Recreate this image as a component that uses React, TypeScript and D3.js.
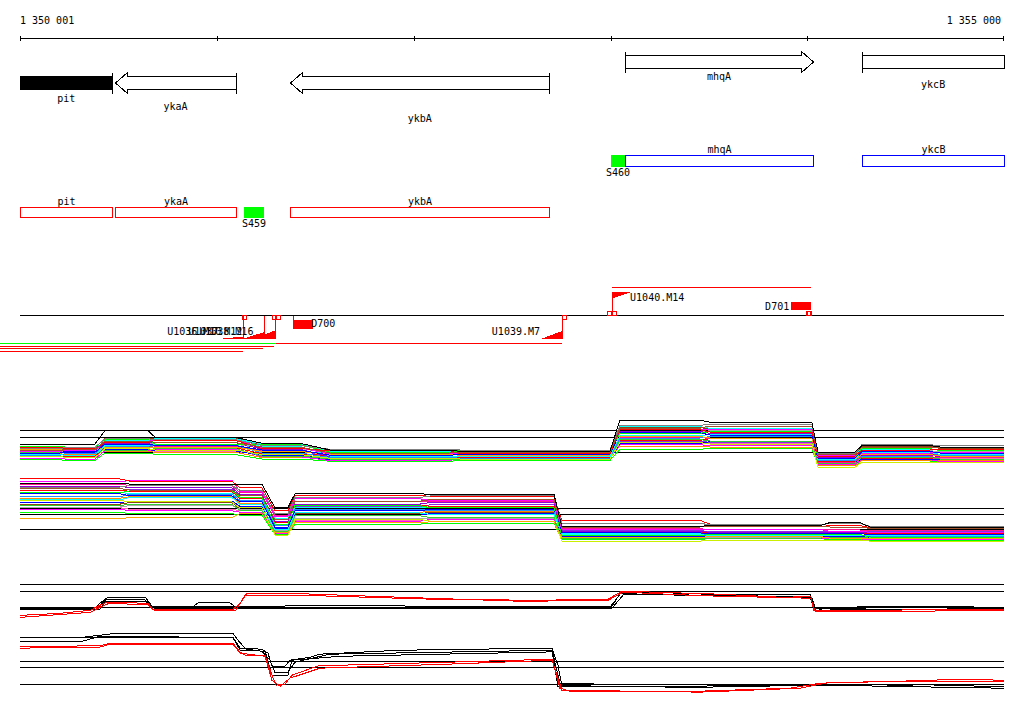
import React from 'react';
import * as d3 from 'd3';

// ---------------- data ----------------
const REGION_FIRST = 1350001;
const REGION_LAST = 1355000;
const REGION_LENGTH = REGION_LAST - REGION_FIRST; // offsets 0..4999
const RULER_TICK_OFFSETS = [0, 1000, 2000, 3000, 4000, 4999];

const GENE_NAMES = ['pit', 'ykaA', 'ykbA', 'mhqA', 'ykcB'];
const GENE_STARTS = [-600, 483, 1372, 3075, 4279];
const GENE_ENDS = [469, 1097, 2689, 4027, 5600];
const GENE_STRANDS = [-1, -1, -1, 1, 1];
const GENE_SELECTED = ['pit'];

const SIGMA_NAMES = ['S459', 'S460'];
const SIGMA_STARTS = [1138, 3002];
const SIGMA_ENDS = [1240, 3075];
const SIGMA_STRANDS = [-1, 1];

const TSS_NAMES = ['U1036.M10', 'U1037.M12', 'U1038.M16', 'U1039.M7', 'U1040.M14'];
const TSS_POSITIONS = [1133, 1240, 1296, 2752, 3007];
const TSS_STRANDS = [-1, -1, -1, -1, 1];
const TSS_SCORES = [0.25, 0.8, 1.0, 0.92, 0.76];

const DOWN_NAMES = ['D700', 'D701'];
const DOWN_POSITIONS = [1387, 4018];
const DOWN_STRANDS = [-1, 1];

const SITE_POSITIONS = [1126, 1279, 1302, 2752, 2984, 3007, 3993];
const SITE_STRANDS = [-1, -1, -1, -1, 1, 1, 1];

const TU_STARTS = [-102, 1302, -102, -102, -102, 3007];
const TU_ENDS = [1302, 2752, 1291, 1235, 1133, 4018];
const TU_STRANDS = [-1, -1, -1, -1, -1, 1];
const TU_KINDS = ['alt', 'main', 'main', 'main', 'main', 'main'];
const TU_LEVELS = [0, 0, 1, 2, 3, 0];

const REF_LEVELS = [0, 1, 1.4];

// panel A (upper multi-condition profiles): segment boundaries (bp offsets) and levels
const A_SEG_STARTS = [0, 229, 432, 686, 1229, 1575, 2235, 3048, 3505, 4054, 4277, 4674];
const A_SEG_ENDS = [203, 381, 650, 1092, 1422, 2184, 2997, 3454, 4023, 4242, 4623, 4999];
const A_SERIES = [
  [0.5, 0.5, 1.4, 0.95, 0.55, 0.1, 0.0, 2.1, 1.95, -0.05, 0.4, 0.3],
  [0.2, 0.25, 0.85, 0.8, 0.4, 0.15, 0.1, 1.75, 1.8, -0.1, 0.45, 0.4],
  [0.05, 0.15, 0.7, 0.6, 0.3, -0.1, -0.05, 1.55, 1.7, -0.2, 0.3, 0.25],
  [0.3, 0.2, 0.6, 0.75, 0.2, 0.05, -0.15, 1.45, 1.3, -0.3, 0.1, 0.15],
  [0.35, 0.3, 0.8, 0.5, 0.45, -0.05, 0.05, 1.2, 1.35, -0.35, 0.2, 0.05],
  [-0.1, -0.05, 0.5, 0.4, 0.1, -0.25, -0.2, 1.25, 1.1, -0.45, 0.0, -0.1],
  [0.0, 0.1, 0.65, 0.8, 0.25, -0.15, -0.1, 1.5, 1.45, -0.25, -0.1, -0.05],
  [-0.2, -0.25, 0.4, 0.5, 0.35, -0.3, -0.35, 1.05, 1.15, -0.5, -0.05, -0.2],
  [0.15, 0.05, 0.3, 0.3, 0.0, -0.2, -0.25, 1.0, 0.9, -0.55, -0.2, -0.3],
  [-0.3, -0.4, 0.2, 0.1, -0.2, -0.45, -0.5, 0.6, 0.5, -1.05, -0.7, -0.75],
  [0.05, 0.1, 0.55, 0.6, 0.15, -0.35, -0.3, 1.35, 1.2, -0.4, -0.25, -0.35],
  [-0.25, -0.15, 0.35, 0.45, -0.1, -0.4, -0.45, 0.9, 1.0, -0.6, -0.3, -0.25],
  [0.25, 0.3, 0.45, 0.35, 0.05, -0.2, -0.15, 0.95, 0.85, -0.7, -0.35, -0.4],
  [-0.05, -0.1, 0.1, 0.2, -0.3, -0.5, -0.55, 0.8, 0.7, -0.8, -0.4, -0.5],
  [-0.35, -0.3, 0.25, 0.25, -0.15, -0.3, -0.4, 0.75, 0.85, -0.65, -0.45, -0.4],
  [0.1, 0.0, 0.15, 0.05, -0.25, -0.55, -0.5, 0.55, 0.65, -0.75, -0.5, -0.55],
  [-0.45, -0.5, 0.05, 0.15, -0.35, -0.6, -0.45, 0.45, 0.4, -0.85, -0.55, -0.65],
  [0.2, 0.15, 0.75, 0.85, 0.5, 0.0, -0.1, 1.65, 1.55, -0.15, 0.15, 0.1],
  [-0.15, -0.2, 0.0, -0.05, -0.4, -0.5, -0.35, 0.35, 0.3, -0.9, -0.6, -0.6],
  [0.05, 0.0, 0.6, 0.5, 0.2, -0.1, -0.2, 1.25, 1.4, -0.3, 0.05, 0.0],
  [-0.55, -0.6, -0.1, -0.2, -0.5, -0.65, -0.6, 0.15, 0.2, -0.95, -0.7, -0.65],
  [-0.3, -0.35, 0.3, 0.4, 0.1, -0.4, -0.35, 0.7, 0.6, -0.5, -0.15, -0.2],
  [0.25, 0.2, 0.9, 0.9, 0.45, 0.1, 0.05, 1.6, 1.5, -0.2, 0.35, 0.2],
  [-0.2, -0.25, 0.2, 0.0, -0.2, -0.45, -0.5, 0.5, 0.55, -0.6, -0.35, -0.45],
];

// panel B (lower multi-condition profiles)
const B_SEG_STARTS = [0, 559, 1118, 1295, 1397, 2083, 2753, 3505, 4115, 4318];
const B_SEG_ENDS = [508, 1077, 1229, 1361, 2032, 2713, 3454, 4064, 4267, 4999];
const B_SERIES = [
  [3.05, 3.0, 3.0, 1.4, 2.35, 2.3, 0.15, 0.2, 0.4, 0.1],
  [2.8, 2.9, 2.6, 1.0, 2.1, 2.2, 0.35, 0.25, 0.35, 0.15],
  [2.7, 2.6, 2.2, 0.6, 1.85, 1.95, 0.1, 0.15, 0.1, 0.0],
  [3.35, 3.2, 2.75, 1.2, 2.25, 2.15, 0.55, 0.3, 0.2, 0.05],
  [2.4, 2.55, 2.1, 0.3, 1.55, 1.4, -0.5, -0.4, -0.4, -0.6],
  [2.35, 2.2, 1.8, 0.1, 1.2, 1.3, -0.3, -0.35, -0.35, -0.4],
  [3.15, 3.25, 2.5, 0.8, 2.0, 1.9, -0.1, -0.05, -0.2, -0.25],
  [1.95, 2.1, 1.6, -0.1, 1.05, 0.95, -0.4, -0.5, -0.5, -0.5],
  [0.65, 0.75, 1.0, -0.3, 0.4, 0.45, -0.6, -0.55, -0.65, -0.7],
  [1.9, 1.8, 1.4, -0.45, 0.6, 0.5, -0.85, -0.8, -0.8, -0.85],
  [2.85, 2.75, 2.3, 0.5, 1.65, 1.75, -0.2, -0.25, -0.3, -0.3],
  [2.15, 2.3, 1.9, 0.2, 1.3, 1.2, -0.45, -0.4, -0.45, -0.55],
  [3.0, 2.9, 2.4, 0.9, 1.8, 1.85, 0.0, -0.1, -0.1, -0.15],
  [1.55, 1.65, 1.2, -0.2, 0.85, 0.75, -0.7, -0.65, -0.6, -0.65],
  [2.6, 2.5, 2.0, 0.4, 1.6, 1.5, -0.25, -0.3, -0.3, -0.35],
  [1.75, 1.85, 1.5, 0.0, 0.9, 1.0, -0.55, -0.5, -0.55, -0.6],
  [1.3, 1.2, 1.1, -0.35, 0.5, 0.6, -0.65, -0.7, -0.7, -0.75],
  [2.45, 2.35, 2.0, 0.7, 1.4, 1.45, -0.35, -0.3, -0.25, -0.45],
  [2.05, 2.15, 1.7, 0.2, 1.1, 1.15, -0.5, -0.45, -0.5, -0.5],
  [1.45, 1.55, 1.3, -0.15, 0.7, 0.65, -0.6, -0.6, -0.4, -0.7],
  [1.1, 1.0, 0.9, -0.4, 0.3, 0.35, -0.75, -0.8, -0.75, -0.8],
  [2.55, 2.65, 2.2, 0.6, 1.5, 1.6, -0.15, -0.2, -0.2, -0.2],
  [1.65, 1.75, 1.3, 0.05, 1.0, 1.1, -0.45, -0.5, -0.3, -0.45],
  [1.4, 1.3, 1.2, -0.25, 0.55, 0.5, -0.7, -0.65, -0.65, -0.7],
];

// panel C (upper, selected conditions): [offset, value]
const C_BLACK_1 = [[0, -0.06], [381, -0.06], [406, 0.24], [442, 0.56], [640, 0.56], [671, 0], [874, 0], [904, 0.26], [1067, 0.26], [1097, 0], [1930, 0], [2438, 0.06], [2997, 0], [3058, 0.92], [3200, 0.9], [3556, 0.75], [4013, 0.78], [4039, 0], [4089, -0.24], [4216, -0.24], [4257, 0.03], [4999, -0.03]];
const C_BLACK_2 = [[0, 0], [396, 0], [437, 0.45], [635, 0.45], [660, 0.03], [1077, 0.03], [1422, 0.09], [2642, 0.06], [3007, 0.06], [3048, 0.81], [3454, 0.72], [4013, 0.63], [4033, -0.06], [4216, -0.09], [4470, 0.06], [4999, 0]];
const C_BLACK_3 = [[0, -0.12], [406, -0.12], [437, 0.36], [650, 0.36], [681, -0.06], [2438, -0.06], [3007, -0.06], [3068, 0.78], [4023, 0.6], [4044, -0.18], [4267, -0.12], [4999, -0.09]];
const C_RED_1 = [[0, -0.48], [203, -0.36], [356, -0.18], [406, 0.12], [442, 0.3], [650, 0.24], [676, -0.12], [1082, -0.12], [1118, 0.24], [1153, 0.84], [1422, 0.81], [1930, 0.6], [2642, 0.32], [2743, 0.46], [2987, 0.48], [3058, 0.96], [3556, 0.78], [3861, 0.6], [4018, 0.63], [4033, -0.18], [4999, -0.14]];
const C_RED_2 = [[0, -0.6], [356, -0.3], [406, 0], [447, 0.21], [650, 0.18], [681, -0.18], [1097, -0.18], [1143, 0.72], [1422, 0.72], [2184, 0.45], [2743, 0.42], [2987, 0.42], [3068, 0.9], [3454, 0.69], [4018, 0.54], [4039, -0.24], [4999, -0.21]];

// panel D (lower, selected conditions)
const D_BLACK_1 = [[0, 2.82], [305, 2.82], [406, 2.96], [483, 3.07], [1082, 3.07], [1107, 2.66], [1143, 2.17], [1229, 2.1], [1260, 1.86], [1280, 1.06], [1346, 1.06], [1372, 1.43], [1473, 1.61], [1524, 1.8], [1626, 1.86], [1930, 2.04], [2703, 2.17], [2733, 1.12], [2753, -0.1], [2946, -0.17], [3962, -0.14], [4064, -0.04], [4470, -0.04], [4999, -0.2]];
const D_BLACK_2 = [[0, 2.55], [305, 2.55], [406, 2.9], [1082, 2.82], [1118, 2.17], [1229, 1.98], [1270, 1.43], [1295, 0.69], [1361, 0.69], [1397, 1.31], [1575, 1.8], [2703, 2.04], [2743, 0.02], [2946, -0.04], [3962, -0.04], [4470, -0.1], [4999, -0.04]];
const D_BLACK_3 = [[0, 2.82], [1082, 2.82], [1118, 2.04], [1245, 1.98], [1280, 0.51], [1361, 0.51], [1382, 1.43], [1626, 1.67], [2703, 1.94], [2733, -0.17], [3454, -0.23], [4064, -0.1], [4999, -0.29]];
const D_RED_1 = [[0, 2.25], [406, 2.32], [457, 2.47], [1082, 2.47], [1118, 1.92], [1143, 1.74], [1245, 1.74], [1280, 0.51], [1301, -0.1], [1346, -0.04], [1382, 0.51], [1524, 1.12], [1626, 1.12], [2184, 1.31], [2703, 1.49], [2743, -0.29], [2794, -0.47], [3454, -0.47], [3912, -0.29], [4064, 0.02], [4470, 0.14], [4775, 0.26], [4999, 0.2]];
const D_RED_2 = [[0, 2.17], [406, 2.23], [457, 2.41], [1082, 2.41], [1118, 1.86], [1245, 1.67], [1280, 0.2], [1321, -0.17], [1372, 0.33], [1524, 0.94], [2184, 1.19], [2703, 1.43], [2753, -0.41], [3454, -0.53], [3962, -0.29], [4115, 0.08], [4999, 0.14]];

// ---------------- styles ----------------
const SERIES_COLORS = ['#000000', '#808080', '#a0522d', '#ff0000', '#00ff00', '#0000ff', '#ff00ff', '#00ffff', '#ffa500', '#ccee00', '#9400d3', '#1e90ff', '#ff1493', '#32cd32', '#ff0000', '#0000ff', '#ff00ff', '#00ffff', '#ff8c00', '#a9a9a9', '#00ff00', '#8a2be2', '#8b4513', '#ff69b4'];
const FONT = "'DejaVu Sans Mono', monospace";
const GENE_LABEL_DY = [19, 27, 39, 18, 26];

type Pt = [number, number];

function segPoints(starts: number[], ends: number[], vals: number[]): Pt[] {
  const pts: Pt[] = [];
  vals.forEach((v, i) => {
    pts.push([starts[i], v]);
    pts.push([ends[i], v]);
  });
  return pts;
}

const fmt = (n: number) => d3.format(',')(n).replace(/,/g, ' ');

export default function App() {
  const W = 1024;
  const H = 714;
  const x = d3.scaleLinear().domain([0, REGION_LENGTH]).range([20, 1004]);
  const cx = (v: number) => Math.round(v) + 0.5;
  const clip = (v: number) => Math.max(0, Math.min(REGION_LENGTH, v));

  const yA = d3.scaleLinear().domain([0, 1]).range([451.5, 436.5]);
  const yB = d3.scaleLinear().domain([0, 1]).range([528.5, 513.7]);
  const yC = d3.scaleLinear().domain([0, 1]).range([607.3, 590.5]);
  const yD = d3.scaleLinear().domain([0, 1]).range([683.5, 667.2]);

  const lineFor = (y: d3.ScaleLinear<number, number>) =>
    d3.line<Pt>().x((d) => x(d[0])).y((d) => y(d[1]));

  const refLines = (y: d3.ScaleLinear<number, number>, key: string) =>
    REF_LEVELS.map((lv, i) => (
      <line key={key + i} x1={x(0)} x2={x(REGION_LENGTH)} y1={cx(y(lv))} y2={cx(y(lv))} stroke="#000" strokeWidth={1} />
    ));

  // -------- gene row (top) --------
  const plusCy = 62;
  const minusCy = 83;
  const shaftH = 6.5;
  const headH = 10.5;
  const headL = 12;

  const genes = GENE_NAMES.map((name, i) => {
    const s = GENE_STARTS[i];
    const e = GENE_ENDS[i];
    const strand = GENE_STRANDS[i];
    const x0 = cx(x(clip(s)));
    const x1 = cx(x(clip(e)));
    const cy = strand > 0 ? plusCy : minusCy;
    const headLeft = strand < 0 && s >= 0;
    const headRight = strand > 0 && e <= REGION_LENGTH;
    let pts: Pt[];
    if (headLeft) {
      pts = [[x0, cy], [x0 + headL, cy - headH], [x0 + headL, cy - shaftH], [x1, cy - shaftH], [x1, cy + shaftH], [x0 + headL, cy + shaftH], [x0 + headL, cy + headH]];
    } else if (headRight) {
      pts = [[x1, cy], [x1 - headL, cy - headH], [x1 - headL, cy - shaftH], [x0, cy - shaftH], [x0, cy + shaftH], [x1 - headL, cy + shaftH], [x1 - headL, cy + headH]];
    } else {
      pts = [[x0, cy - shaftH], [x1, cy - shaftH], [x1, cy + shaftH], [x0, cy + shaftH]];
    }
    const selected = GENE_SELECTED.includes(name);
    const barX = strand < 0 ? (e <= REGION_LENGTH ? x1 : null) : s >= 0 ? x0 : null;
    const labelX = (x(clip(s)) + x(clip(e))) / 2;
    return (
      <g key={name}>
        <polygon
          points={pts.map((p) => p.join(',')).join(' ')}
          fill={selected ? '#000' : '#fff'}
          stroke="#000"
          strokeWidth={1}
          shapeRendering="crispEdges"
        />
        {barX !== null && (
          <line x1={barX} x2={barX} y1={cy - headH} y2={cy + headH} stroke="#000" strokeWidth={1} shapeRendering="crispEdges" />
        )}
        <text x={labelX} y={cy + GENE_LABEL_DY[i]} textAnchor="middle">{name}</text>
      </g>
    );
  });

  // -------- strand rows --------
  const rowPlusTop = 155.5;
  const rowPlusH = 11;
  const rowMinusTop = 207.5;
  const rowMinusH = 10;

  const strandRows = GENE_NAMES.map((name, i) => {
    const strand = GENE_STRANDS[i];
    const x0 = cx(x(clip(GENE_STARTS[i])));
    const x1 = cx(x(clip(GENE_ENDS[i])));
    const top = strand > 0 ? rowPlusTop : rowMinusTop;
    const h = strand > 0 ? rowPlusH : rowMinusH;
    return (
      <g key={'row' + name}>
        <rect x={x0} y={top} width={x1 - x0} height={h} fill="#fff" stroke={strand > 0 ? '#0000ff' : '#ff0000'} strokeWidth={1} shapeRendering="crispEdges" />
        <text x={(x0 + x1) / 2} y={top - 3} textAnchor="middle">{name}</text>
      </g>
    );
  });

  const sigmas = SIGMA_NAMES.map((name, i) => {
    const strand = SIGMA_STRANDS[i];
    const x0 = x(SIGMA_STARTS[i]);
    const x1 = x(SIGMA_ENDS[i]);
    const top = strand > 0 ? rowPlusTop - 0.5 : rowMinusTop - 0.5;
    const h = strand > 0 ? rowPlusH + 1 : rowMinusH + 1;
    return (
      <g key={name}>
        <rect x={Math.round(x0)} y={top} width={Math.round(x1) - Math.round(x0)} height={h} fill="#00ff00" shapeRendering="crispEdges" />
        <text x={(x0 + x1) / 2} y={top + h + 9} textAnchor="middle">{name}</text>
      </g>
    );
  });

  // -------- TSS / transcription track --------
  const trackY = 315.5;
  const minusBase = 338.5;
  const plusTop = 292;
  const rampMax = 8.3;
  const rampLen = 100;

  const tss = TSS_NAMES.map((name, i) => {
    const p = TSS_POSITIONS[i];
    const strand = TSS_STRANDS[i];
    const X = cx(x(p));
    const h = rampMax * TSS_SCORES[i];
    if (strand < 0) {
      const xr = x(p - rampLen);
      return (
        <g key={name}>
          <polygon points={`${X},${minusBase} ${X},${minusBase - h} ${xr},${minusBase}`} fill="#ff0000" shapeRendering="crispEdges" />
          <line x1={X} x2={X} y1={trackY} y2={minusBase} stroke="#ff0000" strokeWidth={1} shapeRendering="crispEdges" />
          <text x={xr - 2} y={335} textAnchor="end">{name}</text>
        </g>
      );
    }
    const xr = x(p + rampLen);
    return (
      <g key={name}>
        <polygon points={`${X},${plusTop} ${X},${plusTop + h} ${xr},${plusTop}`} fill="#ff0000" shapeRendering="crispEdges" />
        <line x1={X} x2={X} y1={trackY} y2={plusTop} stroke="#ff0000" strokeWidth={1} shapeRendering="crispEdges" />
        <text x={xr - 1.5} y={300.7} textAnchor="start">{name}</text>
      </g>
    );
  });

  const sites = SITE_POSITIONS.map((p, i) => {
    const X = cx(x(p));
    const below = SITE_STRANDS[i] < 0;
    return (
      <rect key={'site' + i} x={X} y={below ? trackY : trackY - 4} width={4} height={4} fill="none" stroke="#ff0000" strokeWidth={1} shapeRendering="crispEdges" />
    );
  });

  const downs = DOWN_NAMES.map((name, i) => {
    const p = DOWN_POSITIONS[i];
    if (DOWN_STRANDS[i] < 0) {
      const x0 = x(p);
      const x1 = x(p + rampLen);
      return (
        <g key={name}>
          <line x1={cx(x0)} x2={cx(x0)} y1={trackY} y2={320} stroke="#ff0000" shapeRendering="crispEdges" />
          <rect x={Math.round(x0)} y={320} width={Math.round(x1) - Math.round(x0)} height={8.5} fill="#ff0000" shapeRendering="crispEdges" />
          <text x={x1 - 1.5} y={327} textAnchor="start">{name}</text>
        </g>
      );
    }
    const x0 = x(p - rampLen);
    const x1 = x(p);
    return (
      <g key={name}>
        <rect x={Math.round(x0)} y={302} width={Math.round(x1) - Math.round(x0)} height={8} fill="#ff0000" shapeRendering="crispEdges" />
        <rect x={cx(x1) - 4} y={trackY - 4} width={4} height={4} fill="none" stroke="#ff0000" shapeRendering="crispEdges" />
        <text x={x0 - 2} y={309.5} textAnchor="end">{name}</text>
      </g>
    );
  });

  const tus = TU_STARTS.map((s, i) => {
    const y = TU_STRANDS[i] < 0 ? Math.round(343 + TU_LEVELS[i] * 2.6) + 0.5 : 287.5;
    return (
      <line key={'tu' + i} x1={x(s)} x2={x(TU_ENDS[i])} y1={y} y2={y} stroke={TU_KINDS[i] === 'alt' ? '#00ff00' : '#ff0000'} strokeWidth={1} shapeRendering="crispEdges" />
    );
  });

  // -------- profile panels --------
  const lineA = lineFor(yA);
  const lineB = lineFor(yB);
  const lineC = lineFor(yC);
  const lineD = lineFor(yD);

  const panelA = A_SERIES.map((vals, i) => ({ i, d: lineA(segPoints(A_SEG_STARTS, A_SEG_ENDS, vals)) })).reverse();
  const panelB = B_SERIES.map((vals, i) => ({ i, d: lineB(segPoints(B_SEG_STARTS, B_SEG_ENDS, vals)) })).reverse();
  const cSeries: [Pt[], string][] = [
    [C_BLACK_1 as Pt[], '#000'], [C_BLACK_2 as Pt[], '#000'], [C_BLACK_3 as Pt[], '#000'],
    [C_RED_1 as Pt[], '#ff0000'], [C_RED_2 as Pt[], '#ff0000'],
  ];
  const dSeries: [Pt[], string][] = [
    [D_BLACK_1 as Pt[], '#000'], [D_BLACK_2 as Pt[], '#000'], [D_BLACK_3 as Pt[], '#000'],
    [D_RED_1 as Pt[], '#ff0000'], [D_RED_2 as Pt[], '#ff0000'],
  ];

  return (
    <svg
      width={W}
      height={H}
      viewBox={`0 0 ${W} ${H}`}
      style={{ position: 'absolute', left: 0, top: 0, background: '#fff' }}
      fontFamily={FONT}
      fontSize={10}
    >
      <rect x={0} y={0} width={W} height={H} fill="#fff" />

      {/* ruler */}
      <g shapeRendering="crispEdges">
        <line x1={x(0)} x2={x(REGION_LENGTH)} y1={38.5} y2={38.5} stroke="#000" />
        {RULER_TICK_OFFSETS.map((t) => (
          <line key={'t' + t} x1={cx(x(t)) - (t === REGION_LENGTH ? 1 : 0)} x2={cx(x(t)) - (t === REGION_LENGTH ? 1 : 0)} y1={36} y2={41} stroke="#000" />
        ))}
      </g>
      <text x={x(0)} y={24} textAnchor="start">{fmt(REGION_FIRST)}</text>
      <text x={x(REGION_LENGTH) - 3} y={24} textAnchor="end">{fmt(REGION_LAST)}</text>

      {genes}
      {strandRows}
      {sigmas}

      {/* transcription track */}
      <line x1={x(0)} x2={x(REGION_LENGTH)} y1={trackY} y2={trackY} stroke="#000" strokeWidth={1} shapeRendering="crispEdges" />
      {tus}
      {tss}
      {sites}
      {downs}

      {/* profile panels */}
      <g shapeRendering="crispEdges">
        {refLines(yA, 'ra')}
        {refLines(yB, 'rb')}
        {refLines(yC, 'rc')}
        {refLines(yD, 'rd')}
      </g>
      <g fill="none" strokeWidth={1} shapeRendering="crispEdges">
        {panelA.map((p) => (
          <path key={'a' + p.i} d={p.d || ''} stroke={SERIES_COLORS[p.i % SERIES_COLORS.length]} />
        ))}
        {panelB.map((p) => (
          <path key={'b' + p.i} d={p.d || ''} stroke={SERIES_COLORS[p.i % SERIES_COLORS.length]} />
        ))}
        {cSeries.map(([pts, col], i) => (
          <path key={'c' + i} d={lineC(pts) || ''} stroke={col} />
        ))}
        {dSeries.map(([pts, col], i) => (
          <path key={'d' + i} d={lineD(pts) || ''} stroke={col} />
        ))}
      </g>
    </svg>
  );
}
